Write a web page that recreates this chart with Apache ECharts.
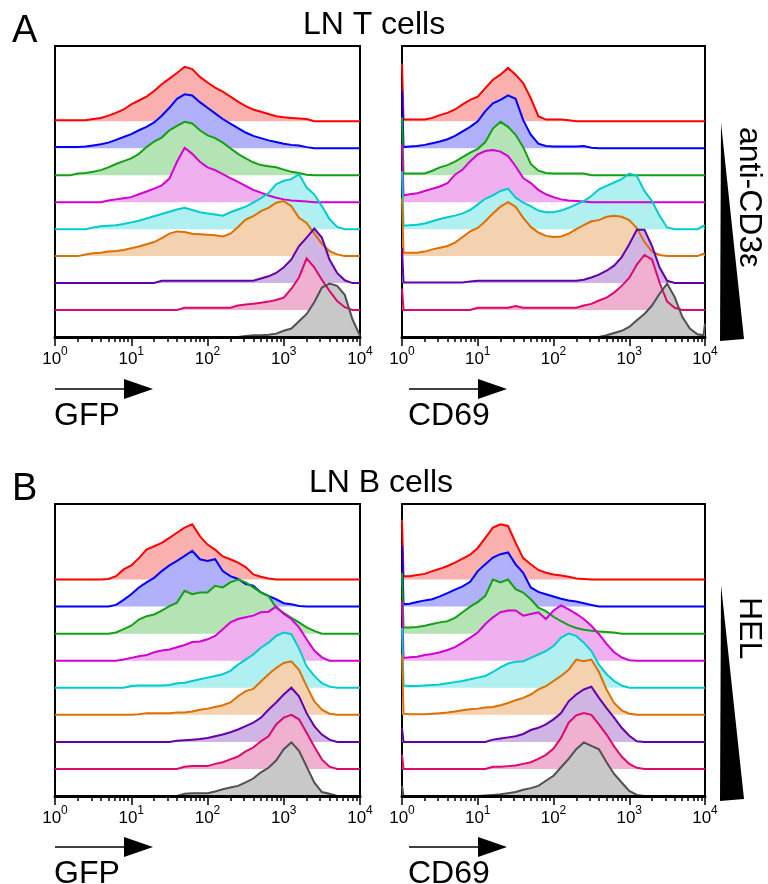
<!DOCTYPE html>
<html><head><meta charset="utf-8">
<script src="https://cdn.jsdelivr.net/npm/echarts@6/dist/echarts.min.js"></script>
<style>html,body{margin:0;padding:0;background:#fff}#c{width:768px;height:884px}</style>
</head><body><div id="c"></div>
<script>
// x positions: log10 of fluorescence intensity (axis runs 10^0 .. 10^4)
const gfpLog = [0,0.1,0.2,0.3,0.4,0.5,0.6,0.7,0.8,0.9,1,1.1,1.2,1.3,1.4,1.5,1.6,1.7,1.8,1.9,2,2.1,2.2,2.3,2.4,2.5,2.6,2.7,2.8,2.9,3,3.1,3.2,3.3,3.4,3.5,3.6,3.7,3.8,3.9,4];
const cd69Log = [0,0.02,0.1,0.2,0.3,0.4,0.5,0.6,0.7,0.8,0.9,1,1.1,1.2,1.3,1.4,1.5,1.6,1.7,1.8,1.9,2,2.1,2.2,2.3,2.4,2.5,2.6,2.7,2.8,2.9,3,3.1,3.2,3.3,3.4,3.5,3.6,3.7,3.8,3.9,3.98,4];
const decadeTicks = [0,1,2,3,4];
const minorTickValues = [2,3,4,5,6,7,8,9,20,30,40,50,60,70,80,90,200,300,400,500,600,700,800,900,2000,3000,4000,5000,6000,7000,8000,9000];
const levels = ['level 1','level 2','level 3','level 4','level 5','level 6','level 7','level 8','level 9'];

// Histogram heights, % of mode. Panel A (LN T cells), GFP
const tGfp1 = [2,2,2,2,2,4,6,10,15,21,30,37,44,54,66,76,86,97,93,79,69,60,53,44,35,27,21,17,13,9,7,6,5,4,0,0,0,0,0,0,0];
const tGfp2 = [2,2,2,2,3,5,7,10,15,20,25,32,38,46,58,72,88,96,94,82,72,62,52,44,36,28,22,18,14,11,8,6,5,2,0,0,0,0,0,0,0];
const tGfp3 = [0,0,0,3,4,6,9,14,20,25,30,38,50,60,67,80,88,95,92,80,71,66,58,48,38,30,23,18,16,14,10,6,4,1,0,0,0,0,0,0,0];
const tGfp4 = [0,0,0,0,0,0,0,3,5,7,9,14,19,24,30,42,72,97,86,72,62,57,50,43,36,29,22,17,12,8,5,3,2,1,0,0,0,0,0,0,0];
const tGfp5 = [0,0,0,0,0,3,5,6,7,9,12,15,19,23,27,31,35,38,34,30,28,26,24,30,35,40,47,55,64,80,86,89,98,74,62,41,18,4,0,0,0];
const tGfp6 = [0,0,0,0,3,5,6,8,9,11,14,17,21,25,32,40,44,43,40,39,38,37,35,40,52,65,71,80,86,95,98,89,68,59,40,22,9,3,0,0,0];
const tGfp7 = [0,0,0,0,0,0,0,0,0,0,0,0,0,0,4,4,4,4,4,4,4,4,4,4,4,4,4,8,12,18,28,42,66,81,97,81,42,18,5,0,0];
const tGfp8 = [0,0,0,0,0,0,0,0,0,0,0,0,0,0,0,0,0,4,4,4,4,4,4,4,8,10,11,13,15,18,22,38,58,92,76,54,34,16,5,0,0];
const tGfp9 = [0,0,0,0,0,0,0,0,0,0,0,0,0,0,0,0,0,0,0,0,0,0,0,0,0,2,3,3,4,6,11,15,28,41,62,88,95,91,75,32,2];
// Panel A, CD69
const tCd1 = [103,3, 3,3,3,6,11,15,21,30,38, 44,59,74,83,95,83,68,41,9,3, 3,3,2,0,0,0,0,0,0,0, 0,0,0,0,0,0,0,0,0,0, 0,0];
const tCd2 = [103,2, 3,4,6,9,12,16,22,30,38, 48,66,80,86,94,88,50,24,8,4, 3,3,3,3,4,1,0,0,0,0, 0,0,0,0,0,0,0,0,0,0, 0,0];
const tCd3 = [103,3, 3,3,3,8,14,18,24,32,40, 47,59,83,95,86,72,50,20,8,4, 3,3,3,3,3,0,0,0,0,0, 0,0,0,0,0,0,0,0,0,0, 0,0];
const tCd4 = [103,12, 14,16,20,24,28,34,49,58,73, 85,91,93,90,82,64,43,34,22,14, 9,5,3,2,1,0,0,0,0,0, 0,0,0,0,0,0,0,0,0,0, 0,0];
const tCd5 = [103,6, 7,8,10,14,18,21,24,28,34, 44,54,60,68,72,56,47,41,33,30, 30,33,38,44,50,59,71,77,83,89, 99,95,68,50,24,3,0,0,0,0, 6,6];
const tCd6 = [103,6, 6,6,8,12,15,18,24,34,44, 50,62,76,88,96,88,68,52,42,36, 34,35,40,48,55,62,64,70,72,70, 64,50,25,8,2,0,0,0,0,0, 4,4];
const tCd7 = [63,1, 1,1,1,1,1,1,1,1,3, 4,4,4,4,4,4,4,4,4,4, 4,4,4,4,6,10,15,22,31,46, 69,95,95,66,28,4,0,0,0,0, 0,0];
const tCd8 = [38,0, 0,0,0,0,0,0,0,0,0, 4,4,4,4,4,7,4,4,4,4, 4,4,4,4,8,11,17,22,31,43, 57,81,98,90,49,15,4,0,0,0, 0,0];
const tCd9 = [0,0, 0,0,0,0,0,0,0,0,0, 0,0,0,0,0,0,0,0,0,0, 0,0,0,0,0,0,0,3,7,11, 18,30,41,56,77,95,71,36,15,5, 3,24];
// Panel B (LN B cells), GFP
const bGfp1 = [0,0,0,0,0,0,0,1,6,18, 25,38,53,59,65,74,83,92,98,77, 62,53,41,36,30,22,9,5,2,0, 0,0,0,0,0,0,0,0,0,0, 0];
const bGfp2 = [0,0,0,0,0,0,0,0,3,12, 22,34,43,51,63,73,81,90,99,84, 81,84,63,54,49,40,37,25,19,13, 6,4,1,0,0,0,0,0,0,0, 0];
const bGfp3 = [0,0,0,0,0,0,0,0,2,8, 14,25,31,34,41,49,55,76,70,73, 73,85,82,91,96,91,82,73,67,46, 37,28,20,11,5,0,0,0,0,0, 0];
const bGfp4 = [0,0,0,0,0,0,0,0,0,2, 5,8,10,15,18,20,24,28,33,34, 38,44,56,68,74,77,80,86,87,96, 83,74,59,38,18,6,0,0,0,0, 0];
const bGfp5 = [0,0,0,0,0,0,0,0,0,0, 3,4,4,4,4,5,8,9,12,15, 18,21,24,30,41,50,59,71,80,92, 98,95,70,38,21,8,2,0,0,0, 0];
const bGfp6 = [0,0,0,0,0,0,0,0,0,0, 0,1,3,3,3,3,4,4,6,9, 11,14,17,22,33,42,46,59,72,83, 92,95,80,51,24,9,2,0,0,0, 0];
const bGfp7 = [0,0,0,0,0,0,0,0,0,0, 0,0,0,0,0,0,2,3,4,5, 7,10,13,17,22,28,34,43,57,70, 84,96,81,51,28,13,4,0,0,0, 0];
const bGfp8 = [0,0,0,0,0,0,0,0,0,0, 0,0,0,0,0,0,0,4,5,5, 5,9,12,17,22,31,38,49,58,79, 91,96,88,64,40,17,4,0,0,0, 0];
const bGfp9 = [0,0,0,0,0,0,0,0,0,0, 0,0,0,0,0,0,0,4,5,5, 5,8,12,15,18,24,31,42,50,63, 83,95,80,52,24,7,4,0,0,0, 0];
// Panel B, CD69
const bCd1 = [106,6, 6,8,10,15,19,24,30,37,44, 56,74,92,98,95,65,38,27,17,12, 9,7,5,2,1,0,0,0,0,0, 0,0,0,0,0,0,0,0,0,0, 0,0];
const bCd2 = [108,4, 5,8,11,13,18,24,30,36,44, 63,75,87,93,96,75,60,34,26,22, 18,14,11,9,6,3,0,0,0,0, 0,0,0,0,0,0,0,0,0,0, 0,0];
const bCd3 = [108,11, 11,12,14,17,20,22,28,38,48, 56,67,96,91,96,79,73,61,46,40, 30,22,15,10,7,5,4,3,2,0, 0,0,0,0,0,0,0,0,0,0, 0,0];
const bCd4 = [106,5, 6,7,10,12,15,19,24,32,41, 50,65,77,86,89,89,80,83,86,74, 89,98,91,83,74,62,47,30,15,6, 1,0,0,0,0,0,0,0,0,0, 0,0];
const bCd5 = [106,4, 3,3,4,5,6,8,10,12,15, 18,21,28,36,43,46,47,53,59,65, 74,89,96,92,80,65,41,24,12,4, 0,0,0,0,0,0,0,0,0,0, 0,0];
const bCd6 = [107,2, 1,1,1,2,3,4,6,8,10, 11,13,14,17,21,26,30,36,45,51, 60,69,80,98,95,98,76,45,21,8, 2,0,0,0,0,0,0,0,0,0, 0,0];
const bCd7 = [25,0, 0,0,0,0,0,0,0,0,0, 0,0,4,6,8,10,14,21,25,31, 40,51,72,84,93,98,78,60,43,25, 11,1,0,0,0,0,0,0,0,0, 0,0];
const bCd8 = [25,0, 0,0,0,0,0,0,0,0,0, 0,0,4,4,5,6,9,12,18,25, 36,55,82,95,99,96,79,61,40,22, 9,2,0,0,0,0,0,0,0,0, 0,0];
const bCd9 = [18,0, 0,0,0,0,0,0,0,0,0, 0,1,2,3,5,7,11,14,18,27, 36,51,66,83,95,89,83,60,39,24, 9,2,0,0,0,0,0,0,0,0, 0,0];

const lineColors = ['#ff0000','#0000ff','#14a014','#d200d2','#00cccc','#dd7000','#6400aa','#dc0a6e','#505050'];
const fillColors = ['#fbb0b0','#b0b0fb','#b4e4b4','#f0b0f0','#b0f0f0','#f4d2b0','#d0b4e4','#f0b0d0','#c8c8c8'];

const FONT = '"Liberation Sans", Arial, Helvetica, sans-serif';
const SPACING = 48;     // vertical offset between stacked histograms (in % units)
const Y_MAX = 518;

const panels = [
  {bins: gfpLog,  sets: [tGfp1,tGfp2,tGfp3,tGfp4,tGfp5,tGfp6,tGfp7,tGfp8,tGfp9], grid: {left: 55,  top: 46,  width: 305, height: 291}},
  {bins: cd69Log, sets: [tCd1,tCd2,tCd3,tCd4,tCd5,tCd6,tCd7,tCd8,tCd9],         grid: {left: 402, top: 46,  width: 303, height: 291}},
  {bins: gfpLog,  sets: [bGfp1,bGfp2,bGfp3,bGfp4,bGfp5,bGfp6,bGfp7,bGfp8,bGfp9], grid: {left: 55,  top: 504, width: 305, height: 292}},
  {bins: cd69Log, sets: [bCd1,bCd2,bCd3,bCd4,bCd5,bCd6,bCd7,bCd8,bCd9],         grid: {left: 402, top: 504, width: 303, height: 292}}
];

const grids = [], xAxes = [], yAxes = [], series = [];
const minorLog = minorTickValues.map(v => Math.log10(v));
panels.forEach((p, gi) => {
  grids.push(Object.assign({show: true, borderColor: '#000', borderWidth: 2, backgroundColor: 'transparent',
    containLabel: false, outerBoundsMode: 'none'}, p.grid));
  xAxes.push({
    type: 'value', gridIndex: gi, min: 0, max: 4, interval: 1, position: 'bottom', z: 5,
    axisLine: {show: true, onZero: false, lineStyle: {color: '#000', width: 3}},
    axisTick: {show: true, length: 9, lineStyle: {color: '#000', width: 1.5}},
    splitLine: {show: false},
    axisLabel: {
      show: true, margin: 14, color: '#000', fontFamily: FONT, fontSize: 17,
      hideOverlap: false,
      customValues: decadeTicks,
      formatter: v => '{b|10}{s|' + v + '}',
      rich: {
        b: {fontSize: 17, lineHeight: 17, fontFamily: FONT, color: '#000', verticalAlign: 'bottom'},
        s: {fontSize: 12, lineHeight: 12, fontFamily: FONT, color: '#000', verticalAlign: 'bottom', padding: [0, 0, 10, 0]}
      }
    }
  });
  xAxes.push({
    type: 'value', gridIndex: gi, min: 0, max: 4, position: 'bottom', z: 5,
    axisLine: {show: false}, axisLabel: {show: false}, splitLine: {show: false},
    axisTick: {show: true, length: 5, customValues: minorLog, lineStyle: {color: '#000', width: 1.5}}
  });
  yAxes.push({type: 'value', gridIndex: gi, min: 0, max: Y_MAX, show: false});
  p.sets.forEach((vals, i) => {
    const off = (8 - i) * SPACING;
    series.push({
      type: 'line', name: levels[i], xAxisIndex: gi * 2, yAxisIndex: gi,
      data: p.bins.map((e, k) => [e, off + vals[k]]),
      symbol: 'none', showSymbol: false, smooth: false, silent: true, animation: false,
      lineStyle: {color: lineColors[i], width: 2, join: 'miter'},
      itemStyle: {color: lineColors[i]},
      areaStyle: {color: fillColors[i], opacity: 1, origin: off}
    });
  });
});

function txt(x, y, text, size, align, rot) {
  return {type: 'text', x: x, y: y, rotation: rot || 0, silent: true,
    style: {text: text, fontSize: size, fontFamily: FONT, fill: '#000',
      align: align, textAlign: align, verticalAlign: 'middle', textVerticalAlign: 'middle'}};
}
function arrow(x0, x1, xh, y) {
  return [
    {type: 'line', silent: true, shape: {x1: x0, y1: y, x2: x1, y2: y}, style: {stroke: '#000', lineWidth: 1.5}},
    {type: 'polygon', silent: true, shape: {points: [[x1 - 2, y - 10], [x1 - 2, y + 10], [xh, y]]}, style: {fill: '#000'}}
  ];
}
const graphic = [
  txt(12, 32, 'A', 38, 'left'),
  txt(374, 25, 'LN T cells', 32, 'center'),
  txt(12, 490, 'B', 38, 'left'),
  txt(381, 483, 'LN B cells', 32, 'center'),
  txt(54, 416, 'GFP', 32, 'left'),
  txt(408, 416, 'CD69', 32, 'left'),
  txt(54, 874, 'GFP', 32, 'left'),
  txt(408, 874, 'CD69', 32, 'left'),
  ...arrow(55, 126, 153, 389),
  ...arrow(409, 480, 507, 389),
  ...arrow(55, 126, 153, 847),
  ...arrow(409, 480, 507, 847),
  {type: 'polygon', silent: true, shape: {points: [[721, 123], [720, 341], [744, 339]]}, style: {fill: '#000'}},
  {type: 'polygon', silent: true, shape: {points: [[721, 585], [720, 801], [744, 799]]}, style: {fill: '#000'}},
  txt(749, 127, 'anti-CD3ε', 32, 'left', -Math.PI / 2),
  txt(749, 597, 'HEL', 32, 'left', -Math.PI / 2)
];

const chart = echarts.init(document.getElementById('c'), null, {renderer: 'canvas'});
chart.setOption({
  backgroundColor: '#fff',
  animation: false,
  grid: grids, xAxis: xAxes, yAxis: yAxes, series: series, graphic: graphic
});
</script></body></html>
